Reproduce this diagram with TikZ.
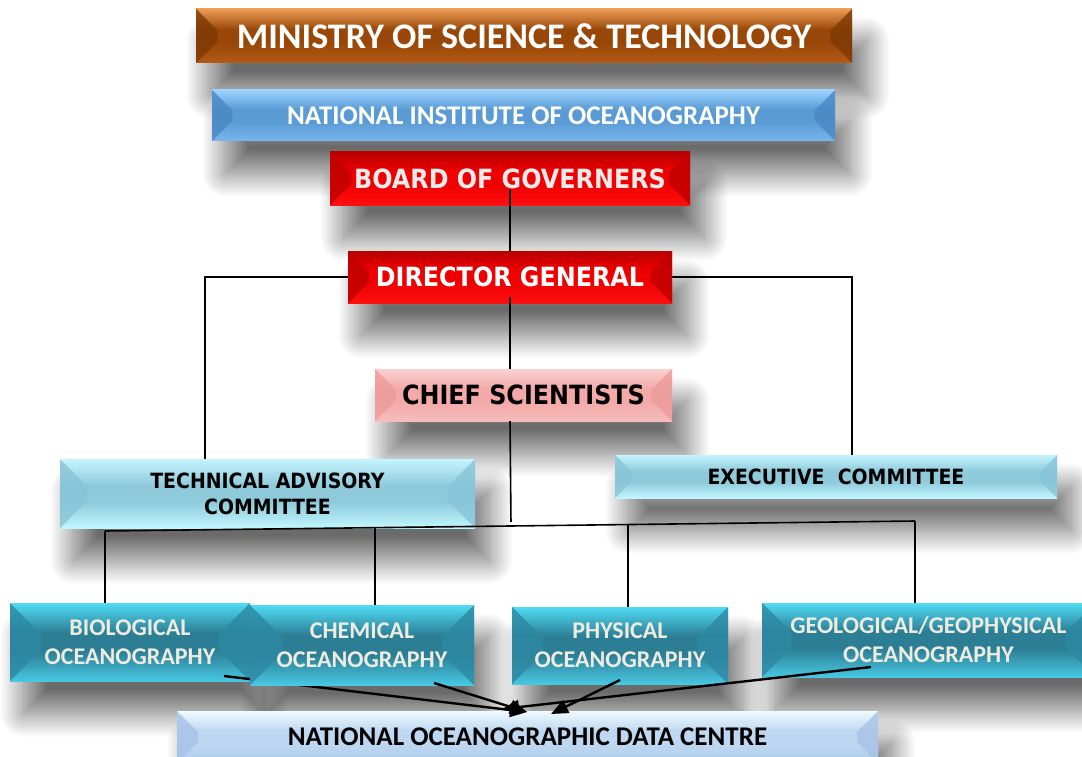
\documentclass[tikz,border=0pt]{standalone}
\usepackage{fontspec}
\usetikzlibrary{calc,shadows.blur,arrows.meta}
\newfontfamily\fcalib{Carlito}
\newfontfamily\fdeja{DejaVu Sans}[FakeStretch=0.9]

% colour schemes: top edge, flat middle, bottom edge, side facets
\definecolor{brTop}{HTML}{EC9B55}\definecolor{brMid}{HTML}{984708}\definecolor{brBot}{HTML}{B55A16}\definecolor{brSide}{HTML}{7E3906}
\definecolor{blTop}{HTML}{9AD3FF}\definecolor{blMid}{HTML}{5B9BD5}\definecolor{blBot}{HTML}{78B6EC}\definecolor{blSide}{HTML}{4A88C4}
\definecolor{rdTop}{HTML}{B80000}\definecolor{rdMid}{HTML}{F00000}\definecolor{rdBot}{HTML}{FF1010}\definecolor{rdSide}{HTML}{C00000}
\definecolor{pkTop}{HTML}{FAD2D1}\definecolor{pkMid}{HTML}{F3A9A7}\definecolor{pkBot}{HTML}{F6BDBB}\definecolor{pkSide}{HTML}{EC9C9A}
\definecolor{cyTop}{HTML}{C4F5FF}\definecolor{cyMid}{HTML}{8FCADB}\definecolor{cyBot}{HTML}{C0F7FF}\definecolor{cySide}{HTML}{88C4D8}
\definecolor{tlTop}{HTML}{4FDCF4}\definecolor{tlMid}{HTML}{2C7E95}\definecolor{tlBot}{HTML}{48C8E2}\definecolor{tlSide}{HTML}{2D88A2}
\definecolor{lbTop}{HTML}{F0FAFF}\definecolor{lbMid}{HTML}{BED8F1}\definecolor{lbBot}{HTML}{B0CCEA}\definecolor{lbSide}{HTML}{A5C2E6}
\definecolor{greyText}{HTML}{EBEBEB}
\definecolor{creamText}{HTML}{EEECE1}

% vertical bevel shading: light edges, flat middle band
\newcommand\mkbevelshade[4]{%
  \pgfdeclareverticalshading{#1}{100bp}{color(0bp)=(#4); color(25bp)=(#4);
    color(44bp)=(#3); color(56bp)=(#3); color(75bp)=(#2); color(100bp)=(#2)}}
\mkbevelshade{shBrown}{brTop}{brMid}{brBot}
\mkbevelshade{shBlue}{blTop}{blMid}{blBot}
\mkbevelshade{shRed}{rdTop}{rdMid}{rdBot}
\mkbevelshade{shPink}{pkTop}{pkMid}{pkBot}
\mkbevelshade{shCyan}{cyTop}{cyMid}{cyBot}
\mkbevelshade{shTeal}{tlTop}{tlMid}{tlBot}
\mkbevelshade{shLight}{lbTop}{lbMid}{lbBot}

\pgfdeclarelayer{shadowlayer}
\pgfsetlayers{shadowlayer,main}

\tikzset{
  side/.store in=\bvside,
  bevel/.style={rectangle, inner sep=0pt, align=center, shade, shading=#1,
    path picture={
      \fill[\bvside, fill opacity=0.8]
        let \p1=(path picture bounding box.south west),
            \p2=(path picture bounding box.north east),
            \n1={0.4*((\y2)-(\y1))} in
        (\x1,\y1) -- (\x1,\y2) -- (\x1+\n1,\y2-\n1) -- (\x1+\n1,\y1+\n1) -- cycle
        (\x2,\y1) -- (\x2,\y2) -- (\x2-\n1,\y2-\n1) -- (\x2-\n1,\y1+\n1) -- cycle;
    }},
  dropsh/.style={blur shadow={shadow xshift=14pt, shadow yshift=-32pt,
    shadow blur radius=24pt, shadow blur steps=30, shadow opacity=58}},
  tbig/.style={font=\fdeja\bfseries\fontsize{26.5}{30}\selectfont},
  tsmall/.style={font=\fdeja\bfseries\fontsize{21}{26}\selectfont},
  cbig/.style={font=\fcalib\bfseries\fontsize{36}{40}\selectfont},
  cmid/.style={font=\fcalib\bfseries\fontsize{27}{32}\selectfont},
  cocean/.style={font=\fcalib\bfseries\fontsize{24}{29}\selectfont},
  link/.style={line width=1.6pt, black},
  arr/.style={line width=2.4pt, black, -{Triangle[length=17pt,width=14pt]}},
}

\begin{document}
\begin{tikzpicture}[x=1pt, y=-1pt]
\path[use as bounding box] (0,0) rectangle (1082,757);
\clip (0,0) rectangle (1082,757);

% free ends of connectors
\coordinate (tacx) at (205,0);
\coordinate (execx) at (852,0);
\coordinate (busL) at (105,531);
\coordinate (busR) at (915,521);
\coordinate (bioOut) at (224,676);
\coordinate (chemOut) at (434,683);
\coordinate (physOut) at (620,680);
\coordinate (geoOut) at (871,667);
\coordinate (tipR) at (527,712);
\coordinate (tipL) at (502,709);
\coordinate (tipP) at (551,714);

% management boxes
\node[bevel=shBrown, side=brSide, cbig, text=white, minimum width=656pt, minimum height=54pt]
  (mst) at (524,36) {MINISTRY OF SCIENCE \& TECHNOLOGY};
\node[bevel=shBlue, side=blSide, cmid, text=white, minimum width=623pt, minimum height=51pt]
  (nio) at (523.5,115.5) {NATIONAL INSTITUTE OF OCEANOGRAPHY};
\node[bevel=shRed, side=rdSide, tbig, text=greyText, minimum width=360pt, minimum height=53pt]
  (bog) at (510,178.5) {BOARD OF GOVERNERS};
\node[bevel=shRed, side=rdSide, tbig, text=white, minimum width=324pt, minimum height=52pt]
  (dg) at (510,277) {DIRECTOR GENERAL};
\node[bevel=shPink, side=pkSide, tbig, text=black, minimum width=297pt, minimum height=52pt]
  (cs) at (523.5,395) {CHIEF SCIENTISTS};
\node[bevel=shCyan, side=cySide, tsmall, text=black, minimum width=415pt, minimum height=69pt]
  (tac) at (267.5,493.5) {TECHNICAL ADVISORY\\COMMITTEE};
\node[bevel=shCyan, side=cySide, tsmall, text=black, minimum width=442pt, minimum height=43pt]
  (exec) at (836,476.5) {EXECUTIVE~ COMMITTEE};

% data centre and divisions, each division's arrow right after its box
\node[bevel=shLight, side=lbSide, cmid, text=black, minimum width=701pt, minimum height=52pt]
  (nodc) at (527.5,737) {NATIONAL OCEANOGRAPHIC DATA CENTRE};
\node[bevel=shTeal, side=tlSide, cocean, text=creamText, minimum width=240pt, minimum height=78pt]
  (bio) at (130,642) {BIOLOGICAL\\OCEANOGRAPHY};
\draw[arr] (bioOut) -- (tipR);
\node[bevel=shTeal, side=tlSide, cocean, text=creamText, minimum width=224pt, minimum height=80pt]
  (chem) at (362,645) {CHEMICAL\\OCEANOGRAPHY};
\draw[arr] (chemOut) -- (tipR);
\node[bevel=shTeal, side=tlSide, cocean, text=creamText, minimum width=216pt, minimum height=77pt]
  (phys) at (620,645.5) {PHYSICAL\\OCEANOGRAPHY};
\draw[arr] (physOut) -- (tipP);
\node[bevel=shTeal, side=tlSide, cocean, text=creamText, minimum width=333pt, minimum height=74pt]
  (geo) at (928.5,640) {GEOLOGICAL/GEOPHYSICAL\\OCEANOGRAPHY};
\draw[arr] (geoOut) -- (tipL);

% soft drop shadows under every box
\begin{pgfonlayer}{shadowlayer}
\foreach \n in {mst,nio,bog,dg,cs,tac,exec,bio,chem,phys,geo,nodc}
  \fill[white, dropsh] (\n.south west) rectangle (\n.north east);
\end{pgfonlayer}

% reporting lines
\draw[link] ($(bog.south)+(0,-16)$) -- (dg.north);
\draw[link] ($(dg.south)+(0,-6)$) -- (dg.south |- cs.north);
\draw[link] (dg.west) -| (tacx |- tac.north);
\draw[link] (dg.east) -| (execx |- exec.north);
\draw[link] (dg.south |- cs.south) -- ($($(busL)!0.5012!(busR)$)+(0,-4)$);
\draw[link] (busL) -- (busR);
\draw[link] (busL) -- (busL |- bio.north);
\draw[link] ($(busL)!0.3333!(busR)$) coordinate (bchem) -- (bchem |- chem.north);
\draw[link] ($(busL)!0.6457!(busR)$) coordinate (bphys) -- (bphys |- phys.north);
\draw[link] (busR) -- (busR |- geo.north);
\end{tikzpicture}
\end{document}
